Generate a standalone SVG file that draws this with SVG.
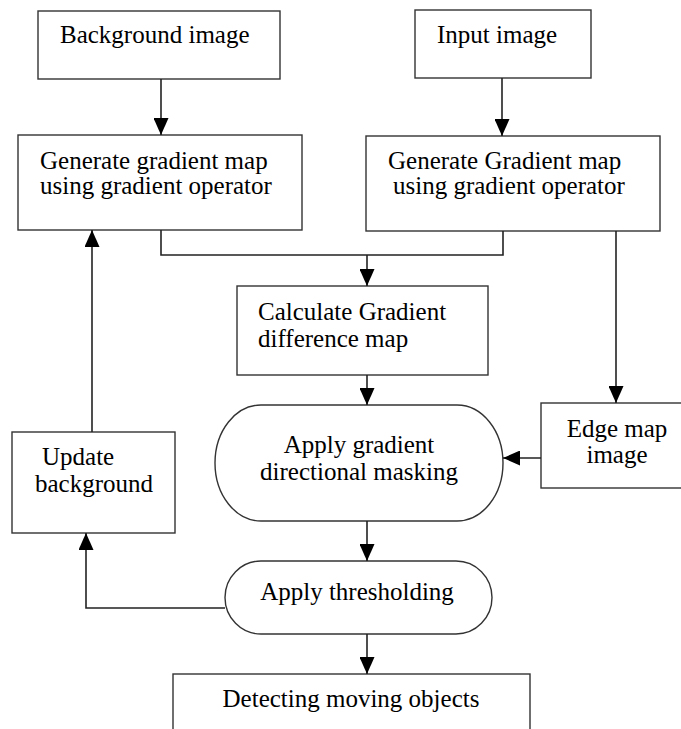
<svg xmlns="http://www.w3.org/2000/svg" width="681" height="729" viewBox="0 0 681 729">
<style>
.box{fill:#fff;stroke:#333;stroke-width:1.4}
.t{font-family:"Liberation Serif","Times New Roman",serif;font-size:25px;fill:#000}
.c{text-anchor:middle}
.ln{fill:none;stroke:#222;stroke-width:1.6}
</style>
<defs>
<marker id="ah" markerUnits="userSpaceOnUse" viewBox="0 0 17 15" refX="17" refY="7.5" markerWidth="17" markerHeight="15" orient="auto">
<path d="M0,0 L17,7.5 L0,15 z" fill="#000"/>
</marker>
</defs>
<rect width="681" height="729" fill="#fff"/>
<g id="n-bg">
<rect class="box" x="38" y="11" width="242" height="68"/>
<text class="t" x="60" y="43">Background image</text>
</g>
<g id="n-input">
<rect class="box" x="415" y="10" width="176" height="68"/>
<text class="t" x="437" y="43">Input image</text>
</g>
<g id="n-gen1">
<rect class="box" x="18" y="135" width="284" height="95"/>
<text class="t" x="40" y="169">Generate gradient map</text>
<text class="t" x="40" y="194">using gradient operator</text>
</g>
<g id="n-gen2">
<rect class="box" x="366" y="136" width="294" height="95"/>
<text class="t" x="388" y="169">Generate Gradient map</text>
<text class="t" x="393" y="194">using gradient operator</text>
</g>
<g id="n-calc">
<rect class="box" x="237" y="286" width="251" height="89"/>
<text class="t" x="258" y="320">Calculate Gradient</text>
<text class="t" x="258" y="347">difference map</text>
</g>
<g id="n-mask">
<rect class="box" x="215" y="405" width="288" height="116" rx="46" ry="58"/>
<text class="t c" x="359" y="453">Apply gradient</text>
<text class="t c" x="359" y="480">directional masking</text>
</g>
<g id="n-edge">
<rect class="box" x="541" y="403" width="152" height="85"/>
<text class="t c" x="617" y="437">Edge map</text>
<text class="t c" x="617" y="463">image</text>
</g>
<g id="n-update">
<rect class="box" x="12" y="432" width="163" height="101"/>
<text class="t" x="42" y="465">Update</text>
<text class="t" x="35" y="492">background</text>
</g>
<g id="n-thresh">
<rect class="box" x="225" y="561" width="267" height="73" rx="36" ry="36.5"/>
<text class="t c" x="357" y="600">Apply thresholding</text>
</g>
<g id="n-detect">
<rect class="box" x="173" y="674" width="357" height="70"/>
<text class="t c" x="351" y="707">Detecting moving objects</text>
</g>
<g id="connectors">
<path class="ln" d="M161,79 V135" marker-end="url(#ah)"/>
<path class="ln" d="M502,78 V136" marker-end="url(#ah)"/>
<path class="ln" d="M161,230 V255 H503 V231"/>
<path class="ln" d="M367,255 V286" marker-end="url(#ah)"/>
<path class="ln" d="M616,231 V403" marker-end="url(#ah)"/>
<path class="ln" d="M367,375 V405" marker-end="url(#ah)"/>
<path class="ln" d="M541,458 H503" marker-end="url(#ah)"/>
<path class="ln" d="M92,432 V230" marker-end="url(#ah)"/>
<path class="ln" d="M367,521 V561" marker-end="url(#ah)"/>
<path class="ln" d="M225,608 H86 V533" marker-end="url(#ah)"/>
<path class="ln" d="M367,634 V674" marker-end="url(#ah)"/>
</g>
</svg>
